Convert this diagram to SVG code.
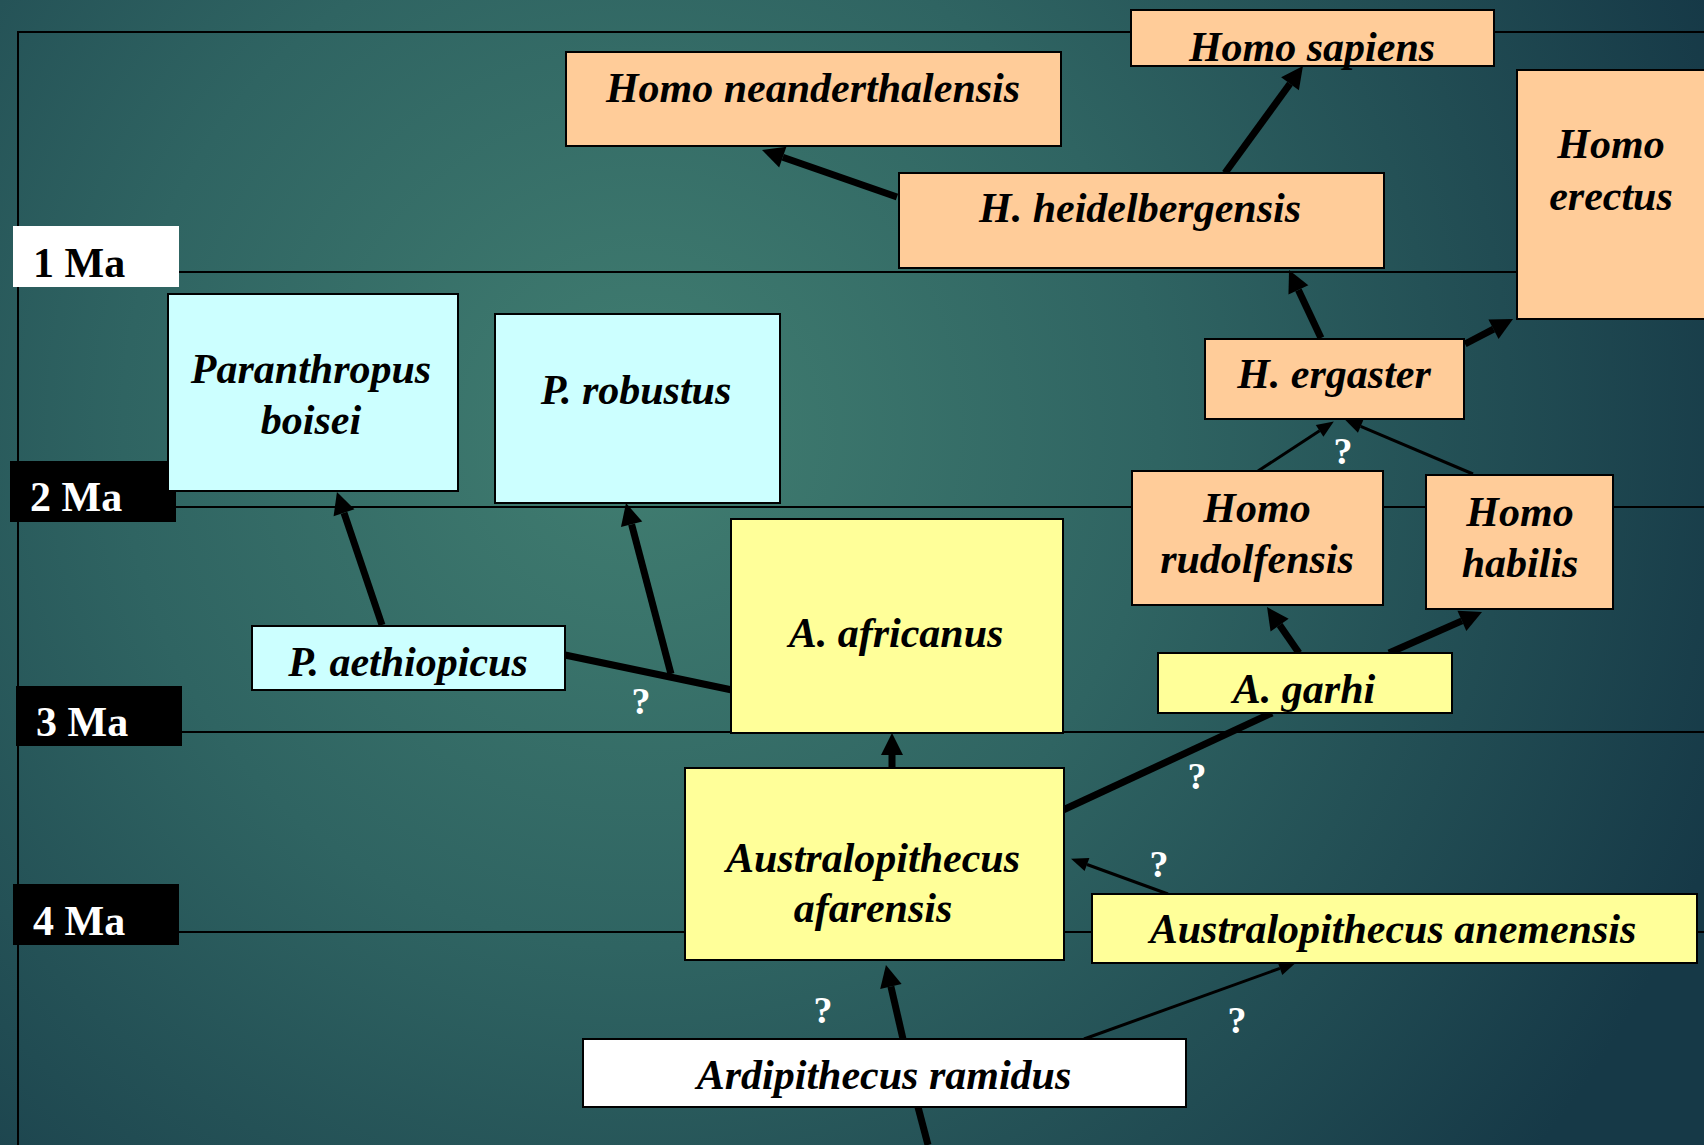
<svg xmlns="http://www.w3.org/2000/svg" width="1704" height="1145" viewBox="0 0 1704 1145">
<defs>
<radialGradient id="bg" gradientUnits="userSpaceOnUse" cx="640" cy="430" r="1150">
<stop offset="0" stop-color="#417e71"/>
<stop offset="0.45" stop-color="#2f6462"/>
<stop offset="1" stop-color="#163947"/>
</radialGradient>
<marker id="hk" markerUnits="userSpaceOnUse" markerWidth="24" markerHeight="24" refX="0" refY="11" orient="auto" overflow="visible">
<path d="M0,0 L22,11 L0,22 z" fill="#000"/>
</marker>
<marker id="hn" markerUnits="userSpaceOnUse" markerWidth="20" markerHeight="16" refX="0" refY="7" orient="auto" overflow="visible">
<path d="M0,0 L17,7 L0,14 z" fill="#000"/>
</marker>
</defs>
<style>
.box{stroke:#000;stroke-width:2}
.peach{fill:#ffcc99}
.cyan{fill:#ccffff}
.yellow{fill:#ffff99}
.white{fill:#ffffff}
.t{font-family:"Liberation Serif","Times New Roman",serif;font-weight:bold;font-style:italic;font-size:42px;fill:#000;text-anchor:middle}
.ma{font-family:"Liberation Serif","Times New Roman",serif;font-weight:bold;font-size:42px}
.q{font-family:"Liberation Serif","Times New Roman",serif;font-weight:bold;font-size:38px;fill:#fff;text-anchor:middle}
.grid{stroke:#000;stroke-width:2;fill:none}
.thick{stroke:#000;stroke-width:7;fill:none}
.thin{stroke:#000;stroke-width:3;fill:none}
</style>
<rect x="0" y="0" width="1704" height="1145" fill="url(#bg)"/>

<g id="timeline">
<path class="grid" d="M18,1145 V32 H1704"/>
<line class="grid" x1="179" y1="272" x2="1704" y2="272"/>
<line class="grid" x1="176" y1="507" x2="1704" y2="507"/>
<line class="grid" x1="182" y1="732" x2="1704" y2="732"/>
<line class="grid" x1="179" y1="932" x2="1704" y2="932"/>
</g>

<g id="label-1ma"><rect x="13" y="226" width="166" height="61" fill="#fff"/><text class="ma" x="33" y="277" fill="#000">1 Ma</text></g>
<g id="label-2ma"><rect x="10" y="461" width="166" height="61" fill="#000"/><text class="ma" x="30" y="511" fill="#fff">2 Ma</text></g>
<g id="label-3ma"><rect x="16" y="686" width="166" height="60" fill="#000"/><text class="ma" x="36" y="736" fill="#fff">3 Ma</text></g>
<g id="label-4ma"><rect x="13" y="884" width="166" height="61" fill="#000"/><text class="ma" x="33" y="935" fill="#fff">4 Ma</text></g>

<g id="connectors">
<line class="thick" x1="897" y1="197" x2="782.8" y2="157.2" marker-end="url(#hk)"/>
<line class="thick" x1="1225" y1="173" x2="1290" y2="83.8" marker-end="url(#hk)"/>
<line class="thick" x1="1321" y1="338" x2="1298.4" y2="289.9" marker-end="url(#hk)"/>
<line class="thick" x1="1465" y1="344" x2="1493.5" y2="329.2" marker-end="url(#hk)"/>
<line class="thin" x1="1258" y1="471" x2="1319.6" y2="430.8" marker-end="url(#hn)"/>
<line class="thin" x1="1473" y1="474" x2="1360.7" y2="426.3" marker-end="url(#hn)"/>
<line class="thick" x1="1299" y1="653" x2="1279.6" y2="625.1" marker-end="url(#hk)"/>
<line class="thick" stroke-width="8" x1="1389" y1="653" x2="1461.9" y2="620.9" marker-end="url(#hk)"/>
<line class="thick" stroke-width="8" x1="1063" y1="810" x2="1272" y2="713"/>
<line class="thick" x1="892" y1="768" x2="892" y2="755" marker-end="url(#hk)"/>
<line class="thick" x1="732" y1="690" x2="565" y2="655"/>
<line class="thick" x1="671" y1="674" x2="631.6" y2="524.3" marker-end="url(#hk)"/>
<line class="thick" x1="382" y1="625" x2="344" y2="512.8" marker-end="url(#hk)"/>
<line class="thin" x1="1168" y1="894" x2="1087" y2="864.5" marker-end="url(#hn)"/>
<line class="thick" x1="903" y1="1039" x2="890.9" y2="986.5" marker-end="url(#hk)"/>
<line class="thick" x1="918" y1="1107" x2="928" y2="1145"/>
<line class="thin" x1="1084" y1="1039" x2="1279.9" y2="968.4" marker-end="url(#hn)"/>
</g>

<g id="homo-sapiens"><rect class="box peach" x="1131" y="10" width="363" height="56"/><text class="t" x="1312" y="61">Homo sapiens</text></g>
<g id="homo-neanderthalensis"><rect class="box peach" x="566" y="52" width="495" height="94"/><text class="t" x="813" y="102">Homo neanderthalensis</text></g>
<g id="h-heidelbergensis"><rect class="box peach" x="899" y="173" width="485" height="95"/><text class="t" x="1140" y="222">H. heidelbergensis</text></g>
<g id="homo-erectus"><rect class="box peach" x="1517" y="70" width="200" height="249"/><text class="t" x="1611" y="158">Homo</text><text class="t" x="1611" y="210">erectus</text></g>
<g id="h-ergaster"><rect class="box peach" x="1205" y="339" width="259" height="80"/><text class="t" x="1334" y="388">H. ergaster</text></g>
<g id="homo-rudolfensis"><rect class="box peach" x="1132" y="471" width="251" height="134"/><text class="t" x="1257" y="522">Homo</text><text class="t" x="1257" y="573">rudolfensis</text></g>
<g id="homo-habilis"><rect class="box peach" x="1426" y="475" width="187" height="134"/><text class="t" x="1520" y="526">Homo</text><text class="t" x="1520" y="577">habilis</text></g>
<g id="paranthropus-boisei"><rect class="box cyan" x="168" y="294" width="290" height="197"/><text class="t" x="311" y="383">Paranthropus</text><text class="t" x="311" y="434">boisei</text></g>
<g id="p-robustus"><rect class="box cyan" x="495" y="314" width="285" height="189"/><text class="t" x="636" y="404">P. robustus</text></g>
<g id="p-aethiopicus"><rect class="box cyan" x="252" y="626" width="313" height="64"/><text class="t" x="408" y="676">P. aethiopicus</text></g>
<g id="a-africanus"><rect class="box yellow" x="731" y="519" width="332" height="214"/><text class="t" x="896" y="647">A. africanus</text></g>
<g id="a-garhi"><rect class="box yellow" x="1158" y="653" width="294" height="60"/><text class="t" x="1304" y="703">A. garhi</text></g>
<g id="australopithecus-afarensis"><rect class="box yellow" x="685" y="768" width="379" height="192"/><text class="t" x="873" y="872">Australopithecus</text><text class="t" x="873" y="922">afarensis</text></g>
<g id="australopithecus-anemensis"><rect class="box yellow" x="1092" y="894" width="605" height="69"/><text class="t" x="1393" y="943">Australopithecus anemensis</text></g>
<g id="ardipithecus-ramidus"><rect class="box white" x="583" y="1039" width="603" height="68"/><text class="t" x="884" y="1089">Ardipithecus ramidus</text></g>

<g id="question-marks">
<text class="q" x="641" y="714">?</text>
<text class="q" x="1343" y="464">?</text>
<text class="q" x="1197" y="789">?</text>
<text class="q" x="1159" y="877">?</text>
<text class="q" x="823" y="1023">?</text>
<text class="q" x="1237" y="1033">?</text>
</g>
</svg>
